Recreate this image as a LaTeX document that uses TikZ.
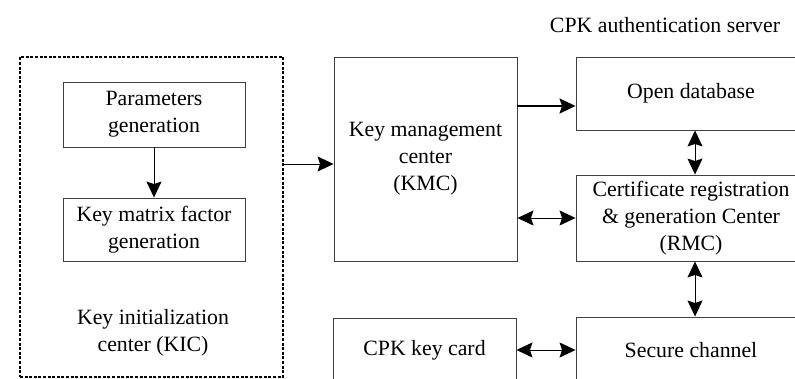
\documentclass[tikz,border=0pt]{standalone}
\usepackage{fontspec}
\setmainfont{Liberation Serif}
\usetikzlibrary{arrows.meta,calc}
\begin{document}
\begin{tikzpicture}[x=1pt,y=-1pt,
  box/.style={draw=black!75,line width=0.9pt,rectangle,inner sep=0pt,align=center,
    font=\fontsize{21.8}{27}\selectfont},
  lbl/.style={inner sep=0pt,align=center,font=\fontsize{21.8}{27}\selectfont},
  head/.tip={Stealth[length=16pt,width=15pt,inset=2.5pt]},
  conn/.style={line width=0.9pt,-head},
  biconn/.style={line width=0.9pt,head-head},
  kicframe/.style={draw=black,line width=1.6pt,dash pattern=on 3pt off 1.6pt}]
  \useasboundingbox (0,0) rectangle (795,379);
  \clip (0,0) rectangle (795,379);

  % Key initialization center (dashed frame)
  \node[kicframe,rectangle,inner sep=0pt,minimum width=263pt,minimum height=320pt] (kic) at (151.5,217) {};
  \node[box,minimum width=182pt,minimum height=65pt] (param) at (154,114.5) {Parameters\\generation};
  \node[box,minimum width=182pt,minimum height=63pt] (kmf) at (154,229.5) {Key matrix factor\\generation};
  \node[lbl] (kiclbl) at (153,333) {Key initialization\\center (KIC)};

  % Key management center and key card
  \node[box,minimum width=183pt,minimum height=204pt] (kmc) at (425.5,159) {Key management\\center\\(KMC)};
  \node[box,minimum width=183pt,minimum height=64pt] (card) at (424.5,350) {CPK key card};

  % CPK authentication server
  \node[lbl] (srv) at (665,25) {CPK authentication server};
  \node[box,minimum width=230pt,minimum height=73pt] (open) at (691,93.5) {Open database};
  \node[box,minimum width=230pt,minimum height=86pt] (cert) at (691,218) {Certificate registration\\\& generation Center\\(RMC)};
  \node[box,minimum width=230pt,minimum height=66pt] (sec) at (691,350) {Secure channel};

  % Connectors
  \draw[conn] (param.south) -- (kmf.north);
  \draw[conn] (kic.east |- 0,164) -- (kmc.west |- 0,164);
  \draw[conn,line width=2pt] (kmc.east |- 0,106) -- (open.west |- 0,106);
  \draw[biconn] (kmc.east |- cert.west) -- (cert.west);
  \draw[biconn] ([xshift=4pt]open.south) -- ([xshift=4pt]cert.north);
  \draw[biconn] ([xshift=4pt]cert.south) -- ([xshift=4pt]sec.north);
  \draw[biconn] (card.east) -- (sec.west |- card.east);
\end{tikzpicture}
\end{document}
